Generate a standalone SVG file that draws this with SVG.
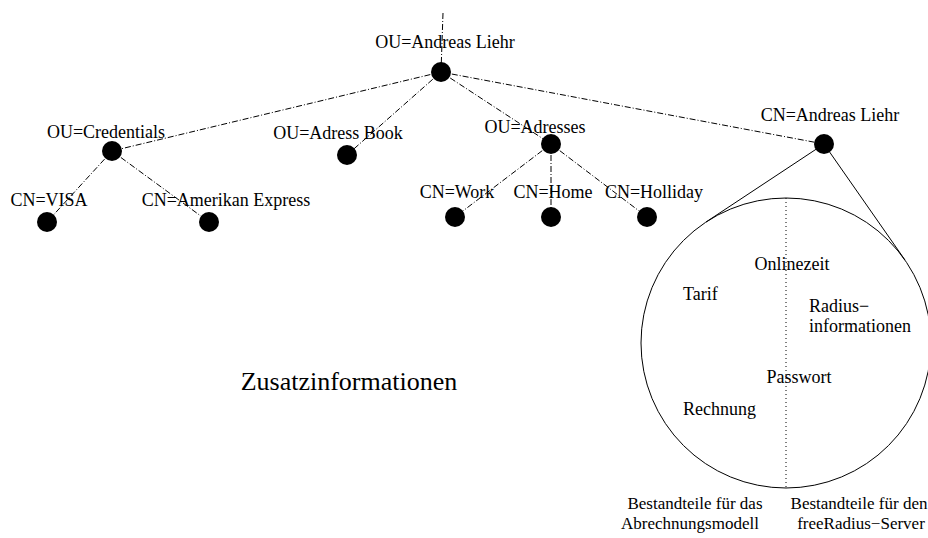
<svg xmlns="http://www.w3.org/2000/svg" width="928" height="538" viewBox="0 0 928 538" font-family="'Liberation Serif', 'Times New Roman', Tinos, Times, serif">
<style>
text{font-family:"Liberation Serif","Times New Roman",Tinos,Times,serif;font-size:18px;fill:#000}
.m{text-anchor:middle}
.s{font-size:17px}
.c{stroke:#000;stroke-width:1;fill:none;stroke-dasharray:6 2 1 2}
.n{fill:#000}
</style>
<rect width="928" height="538" fill="#fff"/>
<g id="connectors">
<line class="c" x1="443" y1="13" x2="441" y2="72"/>
<line class="c" x1="441" y1="72" x2="112" y2="151"/>
<line class="c" x1="441" y1="72" x2="347" y2="155"/>
<line class="c" x1="441" y1="72" x2="551" y2="144"/>
<line class="c" x1="441" y1="72" x2="824" y2="144"/>
<line class="c" x1="112" y1="151" x2="47" y2="222"/>
<line class="c" x1="112" y1="151" x2="209" y2="222"/>
<line class="c" x1="551" y1="144" x2="455" y2="217"/>
<line class="c" x1="551" y1="144" x2="551" y2="217"/>
<line class="c" x1="551" y1="144" x2="647" y2="217"/>
<line x1="824" y1="144" x2="706" y2="222" stroke="#000" stroke-width="1"/>
<line x1="824" y1="144" x2="905" y2="260" stroke="#000" stroke-width="1"/>
</g>
<g id="root"><circle class="n" cx="441" cy="72" r="10"/><text class="m" x="445" y="48">OU=Andreas Liehr</text></g>
<g id="credentials"><circle class="n" cx="112" cy="151" r="10"/><text class="m" x="106" y="138">OU=Credentials</text></g>
<g id="visa"><circle class="n" cx="47" cy="222" r="10"/><text class="m" x="49" y="206">CN=VISA</text></g>
<g id="amex"><circle class="n" cx="209" cy="222" r="10"/><text class="m" x="226" y="206">CN=Amerikan Express</text></g>
<g id="adressbook"><circle class="n" cx="347" cy="155" r="10"/><text class="m" x="338" y="139">OU=Adress Book</text></g>
<g id="adresses"><circle class="n" cx="551" cy="144" r="10"/><text class="m" x="535" y="133">OU=Adresses</text></g>
<g id="work"><circle class="n" cx="455" cy="217" r="10"/><text class="m" x="457" y="198">CN=Work</text></g>
<g id="home"><circle class="n" cx="551" cy="217" r="10"/><text class="m" x="553" y="198">CN=Home</text></g>
<g id="holliday"><circle class="n" cx="647" cy="217" r="10"/><text class="m" x="654" y="198">CN=Holliday</text></g>
<g id="cn-andreas"><circle class="n" cx="824" cy="144" r="10"/><text class="m" x="830" y="121">CN=Andreas Liehr</text></g>
<g id="detail">
<circle cx="786" cy="343" r="145" fill="none" stroke="#000" stroke-width="1"/>
<line x1="786" y1="198" x2="786" y2="488" stroke="#000" stroke-width="1" stroke-dasharray="1 3"/>
<text class="m" x="792" y="270">Onlinezeit</text>
<text x="683" y="300">Tarif</text>
<text x="809" y="312">Radius−</text>
<text x="809" y="332">informationen</text>
<text class="m" x="799" y="383">Passwort</text>
<text x="683" y="415">Rechnung</text>
</g>
<g id="captions">
<text class="m s" x="695" y="509">Bestandteile für das</text>
<text class="m s" x="690" y="529">Abrechnungsmodell</text>
<text class="m s" x="859" y="509">Bestandteile für den</text>
<text class="m s" x="861" y="529">freeRadius−Server</text>
<text class="m" x="349" y="390" style="font-size:26px">Zusatzinformationen</text>
</g>
</svg>
